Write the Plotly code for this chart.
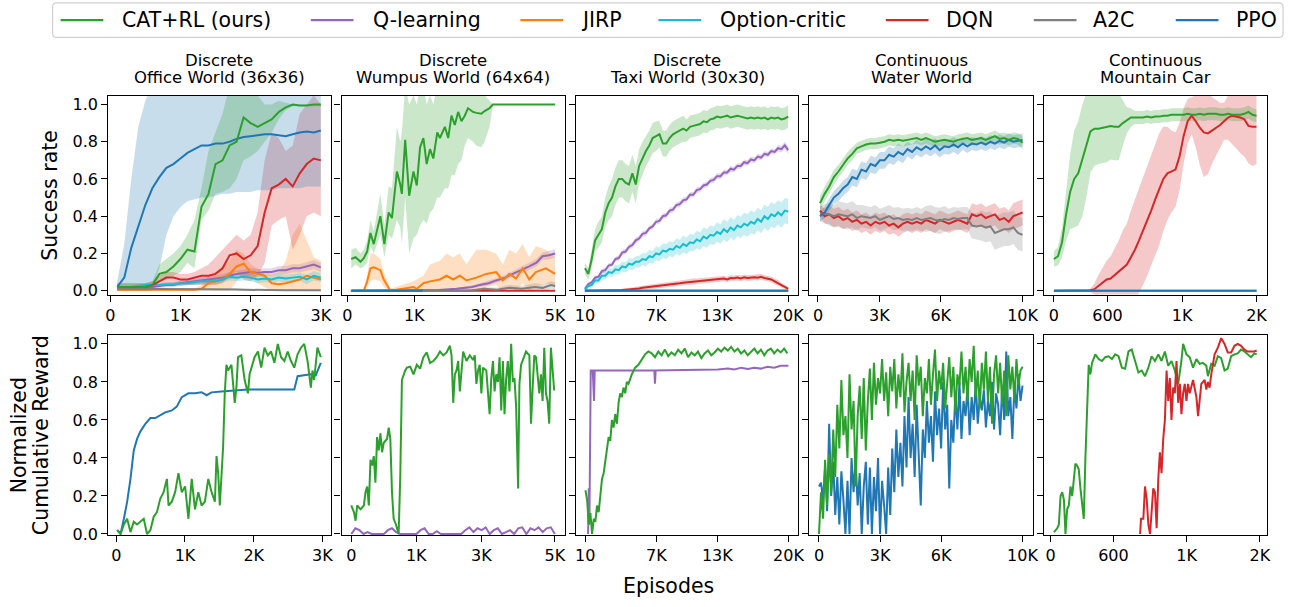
import numpy as np
import plotly.graph_objects as go

W, H = 1293, 607

# ---------------- labels ----------------
methods = ["CAT+RL (ours)", "Q-learning", "JIRP", "Option-critic", "DQN", "A2C", "PPO"]
colors = ["#2ca02c", "#9467bd", "#ff7f0e", "#17becf", "#d62728", "#7f7f7f", "#1f77b4"]
env_kind = ["Discrete", "Discrete", "Discrete", "Continuous", "Continuous"]
env_name = ["Office World (36x36)", "Wumpus World (64x64)", "Taxi World (30x30)", "Water World", "Mountain Car"]
y_title_top = "Success rate"
y_title_bottom = ["Normalized", "Cumulative Reward"]
x_title = "Episodes"
y_ticks = [0.0, 0.2, 0.4, 0.6, 0.8, 1.0]
y_ticktext = ["0.0", "0.2", "0.4", "0.6", "0.8", "1.0"]
xtick_text = [["0", "1K", "2K", "3K"], ["0", "1K", "3K", "5K"], ["10", "7K", "13K", "20K"],
              ["0", "3K", "6K", "10K"], ["0", "600", "1K", "2K"]]
xtick_vals_top = [[0, 1000, 2000, 3000], [0, 1610, 3210, 5000], [10, 7000, 13000, 20000],
                  [0, 3000, 6000, 10000], [0, 529, 1265, 2000]]
xtick_vals_bot = [[0, 1000, 2000, 3000], [0, 1595, 3195, 5000], [10, 7000, 13000, 20000],
                  [0, 3000, 6000, 10000], [0, 600, 1300, 2000]]

# ================= ROW 1 : success rate =================
# ---- Office World ----
ow_x = np.arange(100, 3001, 100)
ow_cat = [0.02, 0.02, 0.02, 0.02, 0.02, 0.03, 0.09, 0.10, 0.13, 0.17, 0.22, 0.21, 0.45, 0.52, 0.68, 0.70, 0.78, 0.80, 0.93, 0.90, 0.88, 0.90, 0.92, 0.96, 0.985, 1.0, 0.995, 0.995, 1.0, 1.0]
ow_cat_lo = [0.0, 0.0, 0.0, 0.0, 0.0, 0.0, 0.05, 0.06, 0.08, 0.10, 0.15, 0.12, 0.38, 0.43, 0.52, 0.53, 0.55, 0.60, 0.70, 0.72, 0.75, 0.80, 0.85, 0.92, 0.97, 0.99, 0.99, 0.99, 0.99, 0.99]
ow_cat_hi = [0.04, 0.04, 0.04, 0.04, 0.04, 0.05, 0.14, 0.17, 0.20, 0.24, 0.30, 0.38, 0.55, 0.75, 0.85, 0.95, 1.1, 1.1, 1.1, 1.1, 1.05, 1.0, 1.0, 1.02, 1.01, 1.0, 1.0, 1.0, 1.0, 1.0]
ow_ql = [0.01, 0.01, 0.015, 0.02, 0.02, 0.02, 0.025, 0.03, 0.03, 0.04, 0.045, 0.05, 0.055, 0.06, 0.065, 0.07, 0.08, 0.09, 0.095, 0.10, 0.095, 0.10, 0.10, 0.11, 0.11, 0.12, 0.12, 0.13, 0.14, 0.125]
ow_ql_sd = [0.005, 0.005, 0.008, 0.01, 0.01, 0.01, 0.012, 0.012, 0.012, 0.015, 0.015, 0.015, 0.015, 0.018, 0.018, 0.018, 0.02, 0.02, 0.02, 0.02, 0.02, 0.02, 0.02, 0.022, 0.022, 0.022, 0.022, 0.025, 0.025, 0.025]
ow_jirp = [0.005, 0.005, 0.005, 0.005, 0.005, 0.005, 0.005, 0.005, 0.005, 0.005, 0.005, 0.005, 0.01, 0.04, 0.05, 0.06, 0.09, 0.13, 0.145, 0.10, 0.09, 0.08, 0.04, 0.035, 0.04, 0.05, 0.06, 0.08, 0.07, 0.06]
ow_jirp_lo = [0.0, 0.0, 0.0, 0.0, 0.0, 0.0, 0.0, 0.0, 0.0, 0.0, 0.0, 0.0, 0.0, 0.0, 0.0, 0.0, 0.0, 0.05, 0.08, 0.06, 0.04, 0.02, 0.0, 0.0, 0.0, 0.0, 0.0, 0.0, 0.0, 0.0]
ow_jirp_hi = [0.01, 0.01, 0.01, 0.01, 0.01, 0.01, 0.01, 0.01, 0.01, 0.01, 0.01, 0.01, 0.03, 0.08, 0.10, 0.13, 0.16, 0.22, 0.20, 0.14, 0.12, 0.10, 0.09, 0.10, 0.16, 0.30, 0.36, 0.27, 0.18, 0.16]
ow_oc = [0.02, 0.02, 0.02, 0.025, 0.03, 0.03, 0.03, 0.035, 0.035, 0.04, 0.04, 0.045, 0.05, 0.05, 0.05, 0.06, 0.075, 0.07, 0.075, 0.07, 0.06, 0.065, 0.06, 0.07, 0.065, 0.07, 0.075, 0.06, 0.08, 0.07]
ow_oc_sd = [0.005, 0.005, 0.005, 0.008, 0.01, 0.01, 0.01, 0.01, 0.012, 0.012, 0.012, 0.015, 0.015, 0.015, 0.015, 0.018, 0.02, 0.02, 0.02, 0.02, 0.02, 0.02, 0.02, 0.02, 0.02, 0.02, 0.02, 0.025, 0.025, 0.025]
ow_dqn = [0.02, 0.02, 0.02, 0.02, 0.02, 0.03, 0.05, 0.07, 0.07, 0.06, 0.06, 0.07, 0.08, 0.08, 0.09, 0.12, 0.19, 0.20, 0.17, 0.19, 0.24, 0.42, 0.55, 0.57, 0.60, 0.56, 0.63, 0.68, 0.71, 0.70]
ow_dqn_lo = [0.0, 0.0, 0.0, 0.0, 0.0, 0.01, 0.03, 0.04, 0.04, 0.03, 0.03, 0.03, 0.03, 0.03, 0.03, 0.04, 0.08, 0.10, 0.06, 0.05, 0.08, 0.15, 0.35, 0.38, 0.40, 0.22, 0.30, 0.40, 0.42, 0.40]
ow_dqn_hi = [0.04, 0.04, 0.04, 0.04, 0.04, 0.05, 0.08, 0.10, 0.10, 0.09, 0.09, 0.10, 0.12, 0.14, 0.18, 0.22, 0.26, 0.30, 0.27, 0.30, 0.42, 0.70, 0.85, 0.82, 0.75, 0.78, 0.95, 1.0, 1.05, 1.0]
ow_a2c = [0.01, 0.01, 0.01, 0.01, 0.01, 0.01, 0.01, 0.01, 0.01, 0.01, 0.01, 0.01, 0.01, 0.01, 0.01, 0.008, 0.007, 0.006, 0.005, 0.004, 0.003, 0.003, 0.002, 0.002, 0.002, 0.002, 0.002, 0.002, 0.002, 0.002]
ow_a2c_sd = [0.005, 0.005, 0.005, 0.005, 0.005, 0.005, 0.005, 0.005, 0.005, 0.005, 0.005, 0.005, 0.005, 0.005, 0.005, 0.005, 0.005, 0.005, 0.005, 0.005, 0.005, 0.005, 0.005, 0.005, 0.005, 0.005, 0.005, 0.005, 0.005, 0.005]
ow_ppo = [0.02, 0.07, 0.23, 0.35, 0.46, 0.55, 0.61, 0.66, 0.68, 0.71, 0.74, 0.76, 0.78, 0.78, 0.79, 0.79, 0.80, 0.815, 0.825, 0.83, 0.835, 0.84, 0.84, 0.835, 0.83, 0.84, 0.85, 0.855, 0.85, 0.86]
ow_ppo_lo = [0.0, 0.0, 0.0, 0.0, 0.0, 0.02, 0.12, 0.30, 0.40, 0.45, 0.48, 0.49, 0.50, 0.50, 0.51, 0.52, 0.52, 0.53, 0.53, 0.53, 0.54, 0.54, 0.54, 0.55, 0.55, 0.55, 0.55, 0.56, 0.56, 0.56]
ow_ppo_hi = [0.05, 0.25, 0.60, 0.88, 1.02, 1.1, 1.1, 1.1, 1.1, 1.1, 1.1, 1.1, 1.1, 1.1, 1.1, 1.1, 1.1, 1.1, 1.1, 1.1, 1.1, 1.1, 1.1, 1.1, 1.1, 1.1, 1.1, 1.1, 1.1, 1.1]

# ---- Wumpus World ----
wu_cat_x = [96, 199, 318, 398, 478, 557, 637, 796, 892, 995, 1075, 1194, 1274, 1313, 1393, 1489, 1592, 1672, 1751, 1831, 1910, 1990, 2070, 2165, 2229, 2348, 2428, 2507, 2587, 2667, 2746, 2826, 2905, 3025, 3104, 3224, 3303, 3423, 3502, 5000]
wu_cat = [0.17, 0.18, 0.155, 0.175, 0.21, 0.31, 0.25, 0.40, 0.25, 0.42, 0.39, 0.64, 0.57, 0.52, 0.81, 0.51, 0.64, 0.565, 0.77, 0.82, 0.68, 0.76, 0.71, 0.85, 0.82, 0.88, 0.82, 0.94, 0.89, 0.96, 0.91, 0.94, 0.98, 0.96, 0.955, 0.95, 0.965, 0.98, 1.0, 1.0]
wu_cat_lo = [0.12, 0.14, 0.12, 0.13, 0.15, 0.24, 0.20, 0.30, 0.18, 0.30, 0.28, 0.38, 0.34, 0.25, 0.50, 0.20, 0.28, 0.30, 0.35, 0.38, 0.36, 0.42, 0.44, 0.50, 0.50, 0.55, 0.55, 0.62, 0.62, 0.68, 0.70, 0.78, 0.82, 0.80, 0.78, 0.77, 0.80, 0.88, 1.0, 1.0]
wu_cat_hi = [0.22, 0.23, 0.20, 0.22, 0.27, 0.38, 0.32, 0.52, 0.35, 0.56, 0.55, 0.88, 0.80, 0.85, 1.1, 1.0, 1.05, 1.0, 1.1, 1.1, 1.0, 1.05, 1.0, 1.1, 1.05, 1.1, 1.05, 1.1, 1.1, 1.1, 1.1, 1.1, 1.1, 1.1, 1.1, 1.1, 1.05, 1.02, 1.0, 1.0]
wu_jirp_x = [80, 398, 478, 557, 637, 796, 876, 1035, 1592, 1672, 1831, 1990, 2229, 2388, 2547, 2706, 2866, 3104, 3343, 3582, 3741, 3900, 4060, 4219, 4378, 4537, 4776, 4999]
wu_jirp = [0.0, 0.0, 0.05, 0.12, 0.125, 0.11, 0.06, 0.0, 0.02, 0.01, 0.04, 0.05, 0.06, 0.08, 0.06, 0.08, 0.055, 0.07, 0.09, 0.10, 0.055, 0.09, 0.065, 0.12, 0.06, 0.10, 0.12, 0.09]
wu_jirp_lo = [0.0, 0.0, 0.02, 0.05, 0.06, 0.05, 0.02, 0.0, 0.0, 0.0, 0.0, 0.0, 0.0, 0.01, 0.0, 0.01, 0.0, 0.0, 0.02, 0.03, 0.0, 0.02, 0.0, 0.04, 0.0, 0.02, 0.04, 0.02]
wu_jirp_hi = [0.0, 0.0, 0.08, 0.20, 0.20, 0.17, 0.10, 0.01, 0.05, 0.06, 0.08, 0.14, 0.16, 0.20, 0.18, 0.20, 0.14, 0.22, 0.22, 0.20, 0.14, 0.22, 0.20, 0.25, 0.18, 0.24, 0.22, 0.18]
wu_ql_x = [100, 1000, 2200, 2630, 3000, 3184, 3400, 3582, 3800, 3980, 4200, 4378, 4550, 4696, 4850, 5000]
wu_ql = [0.0, 0.0, 0.003, 0.01, 0.02, 0.03, 0.04, 0.055, 0.07, 0.09, 0.11, 0.13, 0.15, 0.185, 0.19, 0.2]
wu_ql_sd = [0.0, 0.0, 0.003, 0.005, 0.008, 0.01, 0.012, 0.012, 0.015, 0.015, 0.018, 0.018, 0.02, 0.02, 0.022, 0.022]
wu_a2c_x = [100, 1000, 2000, 3000, 3300, 3600, 3900, 4200, 4500, 4700, 4900, 5000]
wu_a2c = [0.0, 0.0, 0.0, 0.002, 0.01, 0.005, 0.015, 0.01, 0.02, 0.015, 0.03, 0.025]
wu_a2c_sd = [0.0, 0.0, 0.0, 0.003, 0.01, 0.01, 0.015, 0.015, 0.02, 0.02, 0.02, 0.02]
wu_dqn_x = [100, 5000]
wu_dqn = [0.0, 0.0]
wu_ppo_x = [100, 1815]
wu_ppo = [0.0, 0.0]

# ---- Taxi World ----
tx_x = np.linspace(10, 20000, 61)
tx_cat = [0.12, 0.09, 0.17, 0.27, 0.30, 0.33, 0.42, 0.47, 0.50, 0.56, 0.60, 0.60, 0.58, 0.57, 0.63, 0.57, 0.67, 0.71, 0.75, 0.78, 0.82, 0.83, 0.84, 0.79, 0.79, 0.82, 0.84, 0.85, 0.86, 0.87, 0.86, 0.88, 0.885, 0.89, 0.895, 0.91, 0.905, 0.92, 0.925, 0.935, 0.93, 0.935, 0.94, 0.93, 0.935, 0.94, 0.935, 0.93, 0.925, 0.93, 0.925, 0.93, 0.925, 0.93, 0.92, 0.93, 0.925, 0.93, 0.92, 0.925, 0.935]
tx_cat_sd = [0.03, 0.03, 0.05, 0.06, 0.07, 0.07, 0.08, 0.09, 0.10, 0.10, 0.10, 0.10, 0.10, 0.10, 0.10, 0.10, 0.09, 0.09, 0.08, 0.08, 0.08, 0.08, 0.07, 0.07, 0.07, 0.07, 0.07, 0.07, 0.07, 0.07, 0.06, 0.06, 0.06, 0.06, 0.06, 0.06, 0.06, 0.06, 0.06, 0.06, 0.06, 0.06, 0.06, 0.06, 0.06, 0.06, 0.06, 0.06, 0.06, 0.06, 0.06, 0.06, 0.06, 0.06, 0.06, 0.06, 0.06, 0.06, 0.06, 0.06, 0.06]
tx_ql = [0.01, 0.035, 0.045, 0.07, 0.075, 0.105, 0.11, 0.135, 0.14, 0.17, 0.175, 0.205, 0.21, 0.235, 0.245, 0.27, 0.28, 0.305, 0.31, 0.335, 0.345, 0.37, 0.375, 0.40, 0.405, 0.43, 0.435, 0.46, 0.465, 0.485, 0.49, 0.515, 0.515, 0.54, 0.545, 0.565, 0.57, 0.59, 0.595, 0.615, 0.615, 0.635, 0.635, 0.655, 0.65, 0.67, 0.67, 0.69, 0.685, 0.705, 0.70, 0.72, 0.715, 0.735, 0.73, 0.75, 0.745, 0.765, 0.76, 0.78, 0.755]
tx_ql_sd = [0.01, 0.01, 0.01, 0.01, 0.01, 0.012, 0.012, 0.012, 0.012, 0.012, 0.015, 0.015, 0.015, 0.015, 0.015, 0.015, 0.015, 0.015, 0.015, 0.015, 0.015, 0.015, 0.015, 0.015, 0.015, 0.015, 0.015, 0.015, 0.015, 0.015, 0.015, 0.015, 0.015, 0.015, 0.015, 0.015, 0.015, 0.015, 0.015, 0.015, 0.015, 0.015, 0.015, 0.015, 0.015, 0.015, 0.015, 0.015, 0.015, 0.015, 0.015, 0.015, 0.015, 0.015, 0.015, 0.015, 0.015, 0.018, 0.018, 0.02, 0.02]
tx_oc = [0.005, 0.025, 0.03, 0.055, 0.055, 0.08, 0.08, 0.10, 0.095, 0.115, 0.11, 0.13, 0.125, 0.145, 0.14, 0.155, 0.155, 0.17, 0.165, 0.185, 0.18, 0.20, 0.195, 0.215, 0.21, 0.225, 0.22, 0.24, 0.23, 0.25, 0.24, 0.26, 0.255, 0.275, 0.265, 0.29, 0.28, 0.30, 0.295, 0.315, 0.305, 0.33, 0.315, 0.34, 0.325, 0.35, 0.34, 0.36, 0.35, 0.37, 0.36, 0.385, 0.37, 0.40, 0.385, 0.41, 0.40, 0.42, 0.405, 0.43, 0.425]
tx_oc_sd = [0.005, 0.01, 0.012, 0.015, 0.017, 0.02, 0.02, 0.022, 0.022, 0.025, 0.025, 0.027, 0.027, 0.03, 0.03, 0.03, 0.032, 0.032, 0.035, 0.035, 0.035, 0.037, 0.037, 0.04, 0.04, 0.04, 0.04, 0.042, 0.042, 0.045, 0.045, 0.045, 0.045, 0.047, 0.047, 0.05, 0.05, 0.05, 0.05, 0.052, 0.052, 0.055, 0.055, 0.055, 0.055, 0.057, 0.057, 0.06, 0.06, 0.06, 0.06, 0.06, 0.062, 0.062, 0.065, 0.065, 0.065, 0.065, 0.068, 0.068, 0.07]
tx_dqn = [0.0, 0.0, 0.0, 0.0, 0.0, 0.0, 0.0, 0.0, 0.0, 0.0, 0.002, 0.003, 0.005, 0.006, 0.008, 0.01, 0.012, 0.015, 0.017, 0.02, 0.022, 0.025, 0.027, 0.028, 0.03, 0.032, 0.035, 0.038, 0.04, 0.043, 0.045, 0.047, 0.05, 0.05, 0.052, 0.055, 0.056, 0.058, 0.06, 0.06, 0.063, 0.065, 0.06, 0.068, 0.067, 0.07, 0.066, 0.072, 0.068, 0.07, 0.072, 0.07, 0.074, 0.068, 0.065, 0.06, 0.05, 0.042, 0.03, 0.02, 0.01]
tx_dqn_sd = [0.0, 0.0, 0.0, 0.0, 0.0, 0.0, 0.0, 0.0, 0.0, 0.0, 0.005, 0.005, 0.008, 0.008, 0.01, 0.01, 0.01, 0.012, 0.012, 0.012, 0.015, 0.015, 0.015, 0.015, 0.015, 0.015, 0.015, 0.015, 0.015, 0.015, 0.015, 0.015, 0.015, 0.015, 0.015, 0.015, 0.015, 0.015, 0.015, 0.015, 0.015, 0.015, 0.015, 0.015, 0.015, 0.015, 0.015, 0.015, 0.015, 0.015, 0.015, 0.015, 0.015, 0.015, 0.015, 0.015, 0.015, 0.015, 0.012, 0.01, 0.01]
tx_flat_x = [10, 20000]
tx_flat = [0.0, 0.0]

# ---- Water World ----
ww_x = np.linspace(100, 10000, 45)
ww_cat = [0.47, 0.52, 0.56, 0.61, 0.64, 0.675, 0.71, 0.735, 0.765, 0.775, 0.785, 0.79, 0.79, 0.795, 0.80, 0.81, 0.805, 0.81, 0.805, 0.81, 0.815, 0.82, 0.81, 0.82, 0.81, 0.80, 0.805, 0.81, 0.805, 0.80, 0.81, 0.815, 0.82, 0.81, 0.815, 0.82, 0.81, 0.82, 0.83, 0.815, 0.82, 0.81, 0.82, 0.815, 0.795]
ww_cat_sd = [0.04, 0.04, 0.04, 0.04, 0.035, 0.035, 0.035, 0.035, 0.03, 0.03, 0.03, 0.03, 0.03, 0.03, 0.03, 0.03, 0.03, 0.03, 0.03, 0.03, 0.03, 0.03, 0.03, 0.03, 0.03, 0.03, 0.03, 0.03, 0.03, 0.03, 0.03, 0.03, 0.03, 0.03, 0.03, 0.03, 0.03, 0.03, 0.03, 0.03, 0.03, 0.03, 0.03, 0.03, 0.035]
ww_ppo = [0.40, 0.42, 0.46, 0.50, 0.52, 0.55, 0.57, 0.61, 0.60, 0.65, 0.64, 0.68, 0.67, 0.70, 0.70, 0.73, 0.72, 0.745, 0.73, 0.76, 0.745, 0.77, 0.755, 0.775, 0.76, 0.78, 0.755, 0.775, 0.77, 0.785, 0.77, 0.79, 0.775, 0.79, 0.785, 0.795, 0.785, 0.80, 0.79, 0.805, 0.795, 0.81, 0.80, 0.805, 0.81]
ww_ppo_sd = [0.03, 0.03, 0.035, 0.035, 0.04, 0.04, 0.04, 0.045, 0.045, 0.045, 0.045, 0.045, 0.045, 0.045, 0.045, 0.045, 0.045, 0.045, 0.045, 0.04, 0.04, 0.04, 0.04, 0.04, 0.04, 0.04, 0.04, 0.04, 0.04, 0.04, 0.04, 0.035, 0.035, 0.035, 0.035, 0.035, 0.035, 0.035, 0.035, 0.035, 0.035, 0.035, 0.035, 0.035, 0.035]
ww_dqn = [0.43, 0.40, 0.41, 0.39, 0.40, 0.38, 0.39, 0.37, 0.38, 0.36, 0.37, 0.35, 0.37, 0.36, 0.37, 0.35, 0.36, 0.34, 0.36, 0.37, 0.36, 0.37, 0.36, 0.38, 0.37, 0.36, 0.38, 0.37, 0.36, 0.37, 0.38, 0.37, 0.36, 0.41, 0.40, 0.41, 0.39, 0.40, 0.41, 0.38, 0.39, 0.37, 0.40, 0.41, 0.42]
ww_dqn_sd = [0.03, 0.04, 0.05, 0.05, 0.05, 0.05, 0.05, 0.05, 0.05, 0.05, 0.05, 0.05, 0.05, 0.05, 0.05, 0.05, 0.05, 0.05, 0.05, 0.05, 0.05, 0.05, 0.05, 0.05, 0.05, 0.05, 0.05, 0.05, 0.05, 0.05, 0.05, 0.05, 0.05, 0.06, 0.06, 0.06, 0.06, 0.06, 0.06, 0.06, 0.06, 0.06, 0.07, 0.07, 0.07]
ww_a2c = [0.41, 0.415, 0.41, 0.40, 0.41, 0.405, 0.40, 0.41, 0.39, 0.40, 0.395, 0.39, 0.40, 0.38, 0.39, 0.40, 0.385, 0.39, 0.38, 0.385, 0.38, 0.39, 0.38, 0.385, 0.39, 0.38, 0.375, 0.385, 0.38, 0.39, 0.385, 0.39, 0.39, 0.35, 0.345, 0.35, 0.34, 0.345, 0.31, 0.32, 0.33, 0.33, 0.34, 0.31, 0.30]
ww_a2c_sd = [0.04, 0.05, 0.06, 0.06, 0.07, 0.07, 0.07, 0.07, 0.07, 0.06, 0.06, 0.06, 0.06, 0.06, 0.06, 0.06, 0.06, 0.06, 0.06, 0.06, 0.06, 0.06, 0.06, 0.07, 0.07, 0.07, 0.07, 0.07, 0.06, 0.06, 0.06, 0.06, 0.06, 0.07, 0.07, 0.08, 0.08, 0.08, 0.09, 0.09, 0.09, 0.09, 0.09, 0.09, 0.09]

# ---- Mountain Car ----
mc_x = np.linspace(0, 2000, 51)
mc_cat = [0.17, 0.185, 0.26, 0.41, 0.53, 0.60, 0.63, 0.70, 0.78, 0.855, 0.87, 0.87, 0.875, 0.88, 0.885, 0.88, 0.88, 0.90, 0.915, 0.93, 0.93, 0.93, 0.93, 0.935, 0.93, 0.935, 0.935, 0.94, 0.94, 0.945, 0.945, 0.945, 0.945, 0.95, 0.945, 0.945, 0.95, 0.945, 0.95, 0.95, 0.95, 0.945, 0.945, 0.95, 0.945, 0.945, 0.945, 0.95, 0.96, 0.945, 0.94]
mc_cat_sd = [0.04, 0.05, 0.08, 0.14, 0.20, 0.26, 0.28, 0.30, 0.28, 0.22, 0.20, 0.19, 0.19, 0.19, 0.18, 0.18, 0.18, 0.12, 0.07, 0.05, 0.035, 0.035, 0.035, 0.035, 0.035, 0.035, 0.035, 0.035, 0.035, 0.035, 0.035, 0.035, 0.035, 0.035, 0.035, 0.035, 0.035, 0.035, 0.035, 0.035, 0.035, 0.035, 0.035, 0.035, 0.035, 0.035, 0.035, 0.035, 0.035, 0.035, 0.035]
mc_dqn = [0.0, 0.0, 0.0, 0.0, 0.0, 0.0, 0.0, 0.0, 0.0, 0.002, 0.008, 0.025, 0.045, 0.06, 0.065, 0.085, 0.10, 0.125, 0.14, 0.18, 0.22, 0.27, 0.32, 0.37, 0.43, 0.49, 0.545, 0.60, 0.63, 0.64, 0.65, 0.72, 0.83, 0.91, 0.94, 0.91, 0.875, 0.85, 0.845, 0.86, 0.875, 0.89, 0.91, 0.93, 0.94, 0.935, 0.93, 0.92, 0.885, 0.88, 0.88]
mc_dqn_sd = [0.0, 0.0, 0.0, 0.0, 0.0, 0.0, 0.0, 0.0, 0.0, 0.01, 0.03, 0.06, 0.08, 0.10, 0.12, 0.14, 0.17, 0.20, 0.22, 0.25, 0.27, 0.28, 0.29, 0.29, 0.30, 0.30, 0.30, 0.28, 0.25, 0.22, 0.20, 0.18, 0.15, 0.12, 0.10, 0.14, 0.20, 0.24, 0.22, 0.18, 0.15, 0.12, 0.10, 0.12, 0.15, 0.17, 0.19, 0.20, 0.20, 0.21, 0.20]
mc_flat_x = [0, 2000]
mc_flat = [0.0, 0.0]

# ================= ROW 2 : normalized cumulative reward =================
r2_ow_ppo_x = [14, 63, 111, 159, 207, 255, 303, 352, 424, 496, 568, 640, 713, 809, 881, 953, 1050, 1146, 1242, 1314, 1387, 1531, 1724, 1916, 2205, 2446, 2542, 2590, 2638, 2831, 2903, 2976]
r2_ow_ppo = [0.02, 0.0, 0.08, 0.17, 0.29, 0.44, 0.50, 0.54, 0.58, 0.61, 0.61, 0.625, 0.64, 0.65, 0.67, 0.72, 0.74, 0.74, 0.746, 0.73, 0.745, 0.75, 0.755, 0.76, 0.76, 0.762, 0.763, 0.76, 0.83, 0.84, 0.835, 0.90]
r2_ow_cat_x = [14, 63, 111, 159, 207, 255, 303, 352, 400, 448, 496, 544, 592, 640, 689, 737, 761, 809, 857, 905, 953, 1002, 1050, 1098, 1146, 1194, 1242, 1290, 1339, 1387, 1435, 1459, 1483, 1507, 1531, 1555, 1579, 1603, 1627, 1676, 1724, 1748, 1772, 1820, 1868, 1916, 1940, 1964, 2012, 2061, 2109, 2157, 2205, 2253, 2301, 2350, 2398, 2446, 2494, 2542, 2590, 2638, 2687, 2735, 2783, 2831, 2855, 2879, 2927, 2976]
r2_ow_cat = [0.02, 0.0, 0.05, 0.08, 0.01, 0.065, 0.05, 0.065, 0.08, 0.0, 0.02, 0.09, 0.115, 0.185, 0.22, 0.29, 0.15, 0.17, 0.22, 0.32, 0.22, 0.25, 0.08, 0.29, 0.13, 0.22, 0.15, 0.17, 0.29, 0.22, 0.17, 0.41, 0.32, 0.15, 0.29, 0.46, 0.74, 0.89, 0.86, 0.89, 0.69, 0.77, 0.93, 0.94, 0.81, 0.74, 0.84, 0.875, 0.93, 0.96, 0.875, 0.98, 0.94, 0.96, 0.90, 1.0, 0.93, 0.91, 0.96, 0.91, 0.875, 0.945, 0.98, 1.0, 0.91, 0.77, 0.86, 0.81, 0.98, 0.93]

r2_wu_cat_x = [0, 65, 106, 146, 228, 309, 350, 390, 431, 472, 512, 553, 593, 634, 675, 715, 756, 797, 878, 919, 959, 1000, 1041, 1098, 1163, 1203, 1244, 1285, 1325, 1366, 1447, 1528, 1610, 1691, 1772, 1854, 1935, 2016, 2098, 2179, 2260, 2341, 2423, 2463, 2504, 2545, 2585, 2626, 2667, 2748, 2829, 2911, 2992, 3033, 3073, 3114, 3155, 3195, 3236, 3317, 3398, 3439, 3480, 3520, 3561, 3602, 3642, 3683, 3724, 3764, 3805, 3846, 3886, 3927, 3968, 4008, 4049, 4098, 4130, 4171, 4211, 4293, 4374, 4415, 4455, 4496, 4537, 4577, 4618, 4659, 4699, 4740, 4781, 4821, 4862, 4903, 4943, 4984]
r2_wu_cat = [0.15, 0.115, 0.07, 0.15, 0.13, 0.15, 0.22, 0.25, 0.15, 0.39, 0.36, 0.41, 0.27, 0.51, 0.44, 0.53, 0.43, 0.48, 0.50, 0.56, 0.50, 0.22, 0.08, 0.05, 0.0, 0.30, 0.81, 0.84, 0.86, 0.875, 0.88, 0.84, 0.89, 0.87, 0.93, 0.955, 0.90, 0.91, 0.93, 0.96, 0.94, 0.955, 0.99, 0.94, 0.69, 0.84, 0.86, 0.91, 0.75, 0.96, 0.91, 0.94, 0.915, 0.94, 0.79, 0.86, 0.89, 0.74, 0.875, 0.86, 0.63, 0.82, 0.91, 0.75, 0.84, 0.80, 0.93, 0.65, 0.91, 0.63, 0.82, 0.91, 0.75, 1.0, 0.80, 0.82, 0.67, 0.24, 0.79, 0.89, 0.91, 0.96, 0.94, 0.58, 0.77, 0.94, 0.93, 0.81, 0.74, 0.84, 0.70, 0.98, 0.74, 0.70, 0.58, 0.98, 0.84, 0.755]
r2_wu_ql_x = np.linspace(0, 5000, 51)
r2_wu_ql = [0.0, 0.03, 0.02, 0.0, 0.01, 0.0, 0.0, 0.0, 0.0, 0.02, 0.03, 0.01, 0.0, 0.0, 0.0, 0.0, 0.0, 0.02, 0.03, 0.0, 0.0, 0.015, 0.0, 0.0, 0.0, 0.0, 0.0, 0.0, 0.02, 0.035, 0.01, 0.03, 0.02, 0.035, 0.0, 0.02, 0.03, 0.0, 0.01, 0.02, 0.0, 0.03, 0.035, 0.0, 0.03, 0.02, 0.035, 0.01, 0.03, 0.035, 0.0]

r2_tx_cat_x = [33, 195, 358, 521, 684, 847, 1009, 1172, 1335, 1498, 1661, 1823, 1986, 2149, 2312, 2475, 2637, 2800, 2963, 3126, 3289, 3451, 3614, 3777, 3940, 4103, 4265, 4591, 4917, 5242, 5568, 5893, 6219,
               6545, 6870, 7196, 7521, 7847, 8173, 8498, 8824, 9149, 9475, 9801, 10126, 10452, 10777, 11103, 11429, 11754, 12080, 12405, 12731, 13057, 13382, 13708, 14033, 14359, 14685, 15010, 15336, 15661, 15987, 16313, 16638, 16964, 17289, 17615, 17941, 18266, 18592, 18917, 19243, 19569, 19894]
r2_tx_cat = [0.23, 0.18, 0.05, 0.11, 0.0, 0.08, 0.065, 0.15, 0.115, 0.22, 0.29, 0.32, 0.39, 0.46, 0.51, 0.49, 0.60, 0.56, 0.63, 0.58, 0.69, 0.74, 0.72, 0.77, 0.74, 0.80, 0.79, 0.84, 0.875, 0.89, 0.92, 0.945, 0.96,
             0.95, 0.93, 0.96, 0.94, 0.97, 0.935, 0.955, 0.94, 0.97, 0.95, 0.975, 0.93, 0.955, 0.94, 0.96, 0.925, 0.95, 0.965, 0.94, 0.955, 0.975, 0.96, 0.98, 0.965, 0.985, 0.96, 0.975, 0.95, 0.965, 0.94, 0.96, 0.975, 0.95, 0.97, 0.94, 0.965, 0.975, 0.95, 0.97, 0.955, 0.975, 0.95]
r2_tx_ql_x = [293, 358, 423, 488, 554, 749, 879, 944, 1009, 6707, 6805, 6870, 6935, 8173, 9800, 11429, 13057, 14033, 14684, 15336, 15987, 16638, 17289, 17941, 18592, 19243, 19992]
r2_tx_ql = [0.0, 0.24, 0.05, 0.82, 0.86, 0.86, 0.70, 0.86, 0.86, 0.86, 0.86, 0.79, 0.86, 0.862, 0.862, 0.865, 0.865, 0.87, 0.865, 0.875, 0.868, 0.875, 0.87, 0.88, 0.875, 0.885, 0.885]

r2_ww_x = np.linspace(0, 10000, 101)
r2_ww_cat = [0.0, 0.22, 0.08, 0.39, 0.15, 0.42, 0.22, 0.55, 0.30, 0.68,
             0.45, 0.81, 0.52, 0.62, 0.40, 0.84, 0.55, 0.70, 0.25, 0.62,
             0.78, 0.50, 0.82, 0.44, 0.70, 0.87, 0.60, 0.90, 0.68, 0.82,
             0.74, 0.92, 0.70, 0.85, 0.62, 0.88, 0.75, 0.92, 0.66, 0.84,
             0.72, 0.95, 0.64, 0.80, 0.90, 0.70, 0.86, 0.60, 0.94, 0.78,
             0.88, 0.62, 0.82, 0.74, 0.92, 0.68, 0.84, 0.97, 0.70, 0.86,
             0.76, 0.90, 0.66, 0.82, 0.93, 0.72, 0.88, 0.64, 0.84, 0.78,
             0.96, 0.74, 0.88, 0.70, 0.92, 0.80, 0.99, 0.72, 0.86, 0.66,
             0.90, 0.76, 0.96, 0.70, 0.88, 0.58, 0.84, 0.94, 0.74, 0.90,
             0.68, 0.86, 0.62, 0.94, 0.76, 0.88, 0.70, 0.92, 0.78, 0.86, 0.88]
r2_ww_ppo = [0.25, 0.27, 0.18, 0.35, 0.12, 0.58, 0.20, 0.38, 0.10, 0.30,
             0.05, 0.33, 0.18, 0.0, 0.28, 0.0, 0.40, 0.22, 0.39, 0.15,
             0.32, 0.0, 0.25, 0.38, 0.05, 0.35, 0.0, 0.30, 0.12, 0.40,
             0.0, 0.28, 0.15, 0.0, 0.35, 0.10, 0.45, 0.22, 0.55, 0.30,
             0.48, 0.25, 0.62, 0.35, 0.72, 0.40, 0.58, 0.30, 0.68, 0.45,
             0.15, 0.55, 0.40, 0.70, 0.48, 0.62, 0.38, 0.75, 0.52, 0.66,
             0.45, 0.80, 0.55, 0.68, 0.24, 0.60, 0.48, 0.74, 0.55, 0.80,
             0.50, 0.70, 0.62, 0.78, 0.52, 0.72, 0.60, 0.80, 0.58, 0.72,
             0.65, 0.76, 0.56, 0.70, 0.62, 0.80, 0.55, 0.74, 0.68, 0.52,
             0.78, 0.60, 0.96, 0.62, 0.72, 0.50, 0.78, 0.66, 0.84, 0.70, 0.78]

r2_mc_cat_x = [32, 63, 79, 95, 111, 127, 142, 158, 174, 190, 206, 222, 237, 253, 269, 285, 301, 317, 332, 348, 364, 380, 396, 427, 459, 491, 522, 554, 586, 617, 649, 681, 712, 744, 775, 807, 839, 870, 902, 934, 965, 997, 1029, 1060, 1092, 1124, 1155, 1187, 1219, 1250, 1266, 1298, 1329, 1361, 1393, 1424, 1456, 1488, 1503, 1535, 1567, 1598, 1630, 1662, 1693, 1725, 1757, 1788, 1820, 1852, 1883, 1915, 1946, 1969]
r2_mc_cat = [0.01, 0.03, 0.05, 0.20, 0.22, 0.18, 0.0, 0.13, 0.15, 0.25, 0.20, 0.29, 0.37, 0.36, 0.34, 0.24, 0.15, 0.08, 0.39, 0.65, 0.89, 0.84, 0.90, 0.945, 0.92, 0.91, 0.93, 0.935, 0.92, 0.945, 0.935, 0.875, 0.87, 0.96, 0.97, 0.91, 0.85, 0.86, 0.83, 0.875, 0.935, 0.91, 0.945, 0.91, 0.96, 0.885, 0.91, 0.86, 0.79, 0.91, 1.0, 0.945, 0.93, 0.875, 0.92, 0.895, 0.90, 0.885, 0.83, 0.895, 0.885, 0.935, 0.925, 0.86, 0.87, 0.935, 0.945, 0.95, 0.97, 0.96, 0.945, 0.93, 0.95, 0.945]
r2_mc_dqn_x = [855, 864, 886, 902, 918, 934, 950, 965, 981, 997, 1013, 1029, 1044, 1060, 1076, 1092, 1108, 1124, 1139, 1155, 1171, 1187, 1203, 1219, 1235, 1250, 1266, 1282, 1298, 1313, 1329, 1361, 1377, 1393, 1409, 1424, 1440, 1472, 1488, 1503, 1519, 1535, 1567, 1598, 1630, 1662, 1693, 1725, 1757, 1788, 1820, 1852, 1883, 1915, 1946, 1969]
r2_mc_dqn = [0.0, 0.08, 0.08, 0.25, 0.185, 0.05, 0.0, 0.13, 0.24, 0.22, 0.03, 0.29, 0.43, 0.32, 0.50, 0.60, 0.86, 0.70, 0.82, 0.60, 0.77, 0.74, 0.91, 0.69, 0.79, 0.63, 0.74, 0.79, 0.70, 0.79, 0.74, 0.81, 0.76, 0.72, 0.62, 0.70, 0.79, 0.81, 0.76, 0.80, 0.77, 0.84, 0.945, 0.98, 1.03, 1.0, 0.955, 0.955, 0.99, 1.0, 0.99, 0.97, 0.96, 0.96, 0.96, 0.965]

# ================= figure =================
CAT, QL, JIRP, OC, DQN, A2C, PPO = range(7)
FONT = "DejaVu Sans"
fig = go.Figure()


def rgba(hexc, a):
    h = hexc.lstrip('#')
    return 'rgba(%d,%d,%d,%s)' % (int(h[0:2], 16), int(h[2:4], 16), int(h[4:6], 16), a)


def refs(k):
    return ('x' if k == 1 else 'x%d' % k, 'y' if k == 1 else 'y%d' % k)


def add_band(k, x, lo, hi, m):
    xa, ya = refs(k)
    xs = list(np.asarray(x, dtype=float))
    ys = list(np.asarray(hi, dtype=float)) + list(np.asarray(lo, dtype=float))[::-1]
    fig.add_trace(go.Scatter(x=xs + xs[::-1], y=ys, mode='lines', fill='toself',
                             fillcolor=rgba(colors[m], 0.25), line=dict(width=0),
                             hoverinfo='skip', showlegend=False, xaxis=xa, yaxis=ya))


def add_line(k, x, y, m, w=2.0):
    xa, ya = refs(k)
    fig.add_trace(go.Scatter(x=list(np.asarray(x, dtype=float)), y=list(y), mode='lines',
                             line=dict(color=colors[m], width=w), hoverinfo='skip',
                             showlegend=False, xaxis=xa, yaxis=ya))


def sd_band(mean, sd):
    mu = np.asarray(mean, dtype=float)
    s = np.asarray(sd, dtype=float)
    return mu - s, mu + s


# series: (method, x, mean, lo, hi)
top = {
    1: [(QL, ow_x, ow_ql) + sd_band(ow_ql, ow_ql_sd),
        (JIRP, ow_x, ow_jirp, ow_jirp_lo, ow_jirp_hi),
        (OC, ow_x, ow_oc) + sd_band(ow_oc, ow_oc_sd),
        (DQN, ow_x, ow_dqn, ow_dqn_lo, ow_dqn_hi),
        (A2C, ow_x, ow_a2c) + sd_band(ow_a2c, ow_a2c_sd),
        (PPO, ow_x, ow_ppo, ow_ppo_lo, ow_ppo_hi),
        (CAT, ow_x, ow_cat, ow_cat_lo, ow_cat_hi)],
    2: [(QL, wu_ql_x, wu_ql) + sd_band(wu_ql, wu_ql_sd),
        (JIRP, wu_jirp_x, wu_jirp, wu_jirp_lo, wu_jirp_hi),
        (DQN, wu_dqn_x, wu_dqn, None, None),
        (A2C, wu_a2c_x, wu_a2c) + sd_band(wu_a2c, wu_a2c_sd),
        (PPO, wu_ppo_x, wu_ppo, None, None),
        (CAT, wu_cat_x, wu_cat, wu_cat_lo, wu_cat_hi)],
    3: [(QL, tx_x, tx_ql) + sd_band(tx_ql, tx_ql_sd),
        (JIRP, tx_flat_x, tx_flat, None, None),
        (OC, tx_x, tx_oc) + sd_band(tx_oc, tx_oc_sd),
        (DQN, tx_x, tx_dqn) + sd_band(tx_dqn, tx_dqn_sd),
        (A2C, tx_flat_x, tx_flat, None, None),
        (PPO, tx_flat_x, tx_flat, None, None),
        (CAT, tx_x, tx_cat) + sd_band(tx_cat, tx_cat_sd)],
    4: [(DQN, ww_x, ww_dqn) + sd_band(ww_dqn, ww_dqn_sd),
        (A2C, ww_x, ww_a2c) + sd_band(ww_a2c, ww_a2c_sd),
        (PPO, ww_x, ww_ppo) + sd_band(ww_ppo, ww_ppo_sd),
        (CAT, ww_x, ww_cat) + sd_band(ww_cat, ww_cat_sd)],
    5: [(DQN, mc_x, mc_dqn) + sd_band(mc_dqn, mc_dqn_sd),
        (A2C, mc_flat_x, mc_flat, None, None),
        (PPO, mc_flat_x, mc_flat, None, None),
        (CAT, mc_x, mc_cat) + sd_band(mc_cat, mc_cat_sd)],
}
bottom = {
    6: [(PPO, r2_ow_ppo_x, r2_ow_ppo), (CAT, r2_ow_cat_x, r2_ow_cat)],
    7: [(QL, r2_wu_ql_x, r2_wu_ql), (CAT, r2_wu_cat_x, r2_wu_cat)],
    8: [(QL, r2_tx_ql_x, r2_tx_ql), (CAT, r2_tx_cat_x, r2_tx_cat)],
    9: [(PPO, r2_ww_x, r2_ww_ppo), (CAT, r2_ww_x, r2_ww_cat)],
    10: [(CAT, r2_mc_cat_x, r2_mc_cat), (DQN, r2_mc_dqn_x, r2_mc_dqn)],
}

for k, series in top.items():
    for (m, x, y, lo, hi) in series:
        if lo is not None:
            add_band(k, x, lo, hi, m)
    for (m, x, y, lo, hi) in series:
        add_line(k, x, y, m, 2.0)
for k, series in bottom.items():
    for (m, x, y) in series:
        add_line(k, x, y, m, 2.0)

# ---------------- axes (pixel geometry) ----------------
cols_px = [(106, 330), (341, 566), (577, 801), (812, 1037), (1048, 1273)]
rows_px = [(97, 299), (340, 543)]
xr_top = [[-28, 3141], [-136, 5239], [-869, 21006], [-422, 10500], [-101, 2105]]
xr_bot = [[-116, 3120], [-237, 5251], [-898, 20977], [-473, 10503], [-66, 2069]]
yr = [[-0.021, 1.048], [-0.005, 1.047]]
tickfont = dict(family=FONT, size=16, color="black")
axis_common = dict(showline=True, linecolor="black", linewidth=1.3, mirror=True,
                   ticks="outside", ticklen=6, tickwidth=1.3, tickcolor="black",
                   showgrid=False, zeroline=False, tickfont=tickfont)
layout = {}
for r in range(2):
    for c in range(5):
        k = r * 5 + c + 1
        xa, ya = refs(k)
        xkey = 'xaxis' if k == 1 else 'xaxis%d' % k
        ykey = 'yaxis' if k == 1 else 'yaxis%d' % k
        x0, x1 = cols_px[c]
        t0, t1 = rows_px[r]
        layout[xkey] = dict(axis_common, domain=[x0 / W, x1 / W], anchor=ya,
                            range=(xr_top if r == 0 else xr_bot)[c],
                            tickmode='array',
                            tickvals=(xtick_vals_top if r == 0 else xtick_vals_bot)[c],
                            ticktext=xtick_text[c])
        layout[ykey] = dict(axis_common, domain=[1 - t1 / H, 1 - t0 / H], anchor=xa,
                            range=yr[r], tickmode='array', tickvals=y_ticks,
                            ticktext=y_ticktext, showticklabels=(c == 0))

annotations = []
shapes = []


def px(xp):
    return xp / W


def py(yp):
    return 1 - yp / H


# panel titles
for c in range(5):
    cx = (cols_px[c][0] + cols_px[c][1]) / 2
    annotations.append(dict(x=px(cx), y=py(61), xref='paper', yref='paper', text=env_kind[c],
                            showarrow=False, xanchor='center', yanchor='middle',
                            font=dict(family=FONT, size=16.5, color='black')))
    annotations.append(dict(x=px(cx), y=py(79), xref='paper', yref='paper', text=env_name[c],
                            showarrow=False, xanchor='center', yanchor='middle',
                            font=dict(family=FONT, size=16.5, color='black')))
# axis titles
annotations.append(dict(x=px(47), y=py(198), xref='paper', yref='paper', text=y_title_top,
                        textangle=-90, showarrow=False, xanchor='center', yanchor='middle',
                        font=dict(family=FONT, size=20.5, color='black')))
annotations.append(dict(x=px(17), y=py(442), xref='paper', yref='paper', text=y_title_bottom[0],
                        textangle=-90, showarrow=False, xanchor='center', yanchor='middle',
                        font=dict(family=FONT, size=20.5, color='black')))
annotations.append(dict(x=px(39), y=py(442), xref='paper', yref='paper', text=y_title_bottom[1],
                        textangle=-90, showarrow=False, xanchor='center', yanchor='middle',
                        font=dict(family=FONT, size=20.5, color='black')))
annotations.append(dict(x=px(670), y=py(595), xref='paper', yref='paper', text=x_title,
                        showarrow=False, xanchor='center', yanchor='middle',
                        font=dict(family=FONT, size=20.5, color='black')))

# legend (drawn manually to match the single-row boxed legend)
lx0, lx1, ly0, ly1, rr = 50, 1289, 3, 38, 4
path = ("M %f,%f L %f,%f Q %f,%f %f,%f L %f,%f Q %f,%f %f,%f L %f,%f Q %f,%f %f,%f L %f,%f Q %f,%f %f,%f Z" % (
    px(lx0 + rr), py(ly0), px(lx1 - rr), py(ly0), px(lx1), py(ly0), px(lx1), py(ly0 + rr),
    px(lx1), py(ly1 - rr), px(lx1), py(ly1), px(lx1 - rr), py(ly1),
    px(lx0 + rr), py(ly1), px(lx0), py(ly1), px(lx0), py(ly1 - rr),
    px(lx0), py(ly0 + rr), px(lx0), py(ly0), px(lx0 + rr), py(ly0)))
shapes.append(dict(type='path', path=path, xref='paper', yref='paper',
                   line=dict(color='#d0d0d0', width=1.2), fillcolor='white', layer='below'))
leg_line_x = [58, 310, 521, 660, 889, 1038, 1181]
leg_text_x = [118, 371, 580, 720, 948, 1096, 1240]
for m in range(7):
    shapes.append(dict(type='line', xref='paper', yref='paper', x0=px(leg_line_x[m]), x1=px(leg_line_x[m] + 43),
                       y0=py(20.5), y1=py(20.5), line=dict(color=colors[m], width=2.2)))
    annotations.append(dict(x=px(leg_text_x[m]), y=py(20.5), xref='paper', yref='paper', text=methods[m],
                            showarrow=False, xanchor='left', yanchor='middle',
                            font=dict(family=FONT, size=20.5, color='black')))

fig.update_layout(**layout)
fig.update_layout(width=W, height=H, margin=dict(l=0, r=0, t=0, b=0),
                  paper_bgcolor='white', plot_bgcolor='white', showlegend=False,
                  annotations=annotations, shapes=shapes,
                  font=dict(family=FONT, size=16, color='black'))

fig.write_html("out.html", config={'displayModeBar': False},
               post_script="document.body.style.margin='0px';document.body.style.overflow='hidden';")
